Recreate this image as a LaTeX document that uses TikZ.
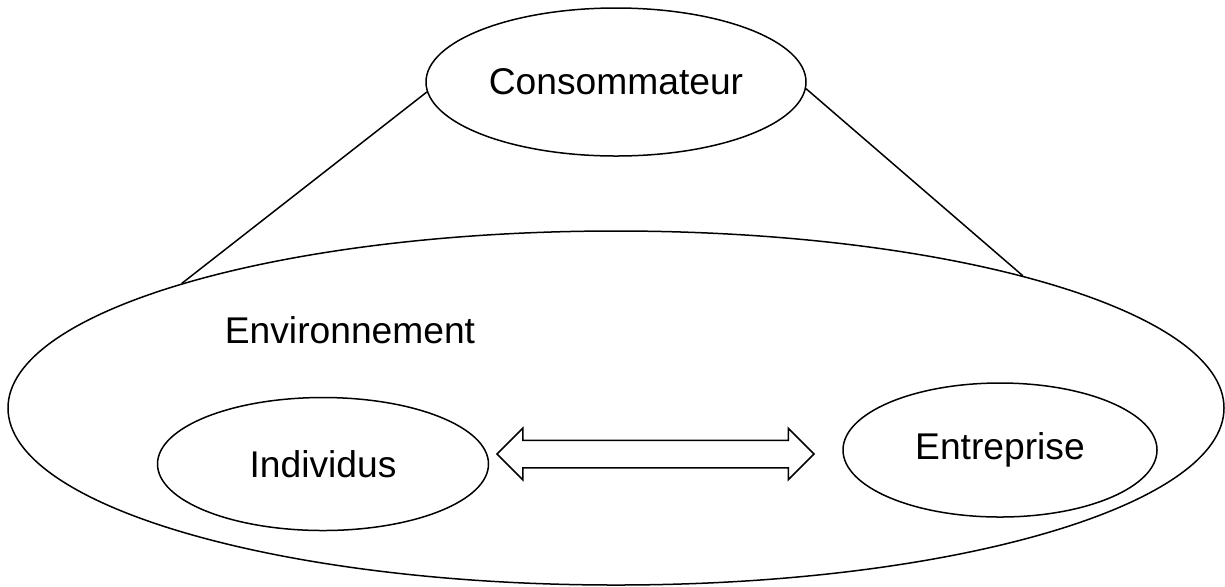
\documentclass[tikz,border=0pt]{standalone}
\usepackage{fontspec}
\setmainfont{Liberation Sans}
\usetikzlibrary{shapes.geometric,shapes.arrows}

\begin{document}
\begin{tikzpicture}[
    x=0.5pt, y=-0.5pt,
    line width=0.75pt,
    font=\fontsize{18.6}{22}\selectfont,
    oval/.style={ellipse, draw, inner sep=0pt},
    link/.style={double arrow, draw, inner xsep=0pt, inner ysep=6.5pt, minimum width=25pt, double arrow head extend=6pt, minimum height=158.5pt}
]
\useasboundingbox (0,0) rectangle (1225,586);

% Environment
\node[oval, minimum width=608pt, minimum height=177pt] (env) at (616,408) {};
\node (envtxt) at (350,330) {Environnement};

% Consumer
\node[oval, minimum width=190pt, minimum height=74pt] (conso) at (616,82) {Consommateur};

% Inner actors
\node[oval, minimum width=165.5pt, minimum height=66.5pt] (indiv) at (323,464) {Individus};
\node[oval, minimum width=157pt, minimum height=67pt] (entre) at (1000,450) {Entreprise};
\node[link] (flow) at (655.5,454) {};

% Links
\draw (conso.183) -- (env.164);
\draw (conso.358) -- (env.18.5);

\end{tikzpicture}
\end{document}
